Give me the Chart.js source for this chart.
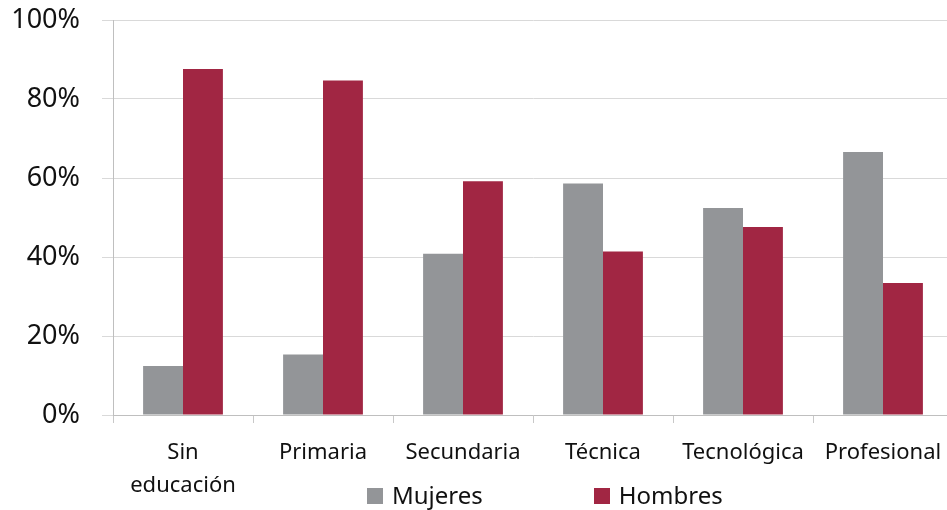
<!DOCTYPE html>
<html lang="es">
<head>
  <meta charset="UTF-8">
  <title>Mujeres y hombres por nivel educativo</title>
  <script src="https://cdn.jsdelivr.net/npm/chart.js"></script>
  <style>
    html, body {
      margin: 0;
      padding: 0;
      background: #fff;
      overflow: hidden;
    }
    #wrap {
      position: relative;
      width: 960px;
      height: 510px;
    }
    #legend {
      position: absolute;
      top: 478px;
      left: 367px;
      display: flex;
      font-family: 'Noto Sans', sans-serif;
      font-size: 24px;
      color: #111;
    }
    .legend-item {
      display: flex;
      align-items: center;
      margin-right: 111px;
    }
    .legend-box {
      width: 16px;
      height: 16px;
      margin-right: 9px;
      margin-top: 3px;
    }
  </style>
</head>
<body>
  <div id="wrap">
    <canvas id="eduChart" width="960" height="510"></canvas>
    <div id="legend"></div>
  </div>

  <script>
    const categories = [['Sin', 'educación'], 'Primaria', 'Secundaria', 'Técnica', 'Tecnológica', 'Profesional'];
    const mujeres = [12.4, 15.3, 40.8, 58.6, 52.4, 66.6];
    const hombres = [87.6, 84.7, 59.2, 41.4, 47.6, 33.4];
    const yTicks = [0, 20, 40, 60, 80, 100];

    const colors = { mujeres: '#939598', hombres: '#a12643' };
    const font = "'Noto Sans', sans-serif";

    const chart = new Chart(document.getElementById('eduChart'), {
      type: 'bar',
      data: {
        labels: categories,
        datasets: [
          { label: 'Mujeres', data: mujeres, backgroundColor: colors.mujeres },
          { label: 'Hombres', data: hombres, backgroundColor: colors.hombres }
        ]
      },
      options: {
        responsive: false,
        animation: false,
        devicePixelRatio: 1,
        layout: { padding: { top: 0, right: 7, bottom: 0, left: 0 } },
        datasets: {
          bar: { barPercentage: 1, categoryPercentage: 0.57 }
        },
        plugins: {
          legend: { display: false },
          tooltip: { enabled: false }
        },
        scales: {
          x: {
            // fixed axis box so the plot sits where it should
            afterFit: axis => {
              axis.height = 95;
              axis.paddingLeft = 0;
              axis.paddingRight = 0;
            },
            grid: {
              offset: true,
              drawOnChartArea: false,
              drawTicks: true,
              tickLength: 8,
              color: '#c8c8c8'
            },
            border: { color: '#bfbfbf' },
            ticks: {
              color: '#111',
              padding: 13,
              maxRotation: 0,
              autoSkip: false,
              font: { family: font, size: 22, lineHeight: 1.5 }
            }
          },
          y: {
            min: 0,
            max: 100,
            afterBuildTicks: axis => {
              axis.ticks = yTicks.map(v => ({ value: v }));
            },
            afterFit: axis => {
              axis.width = 113;
              axis.paddingTop = 20;
              axis.paddingBottom = 14;
            },
            grid: { color: '#d9d9d9', tickLength: 11 },
            border: { color: '#bfbfbf' },
            ticks: {
              color: '#111',
              padding: 22,
              font: { family: font, size: 27 },
              callback: v => v + '%'
            }
          }
        }
      }
    });

    // legend as HTML so it can sit beside the wrapped category label
    const legend = document.getElementById('legend');
    chart.data.datasets.forEach(ds => {
      const item = document.createElement('div');
      item.className = 'legend-item';
      item.innerHTML = `<span class="legend-box" style="background:${ds.backgroundColor}"></span>${ds.label}`;
      legend.appendChild(item);
    });
  </script>
</body>
</html>
